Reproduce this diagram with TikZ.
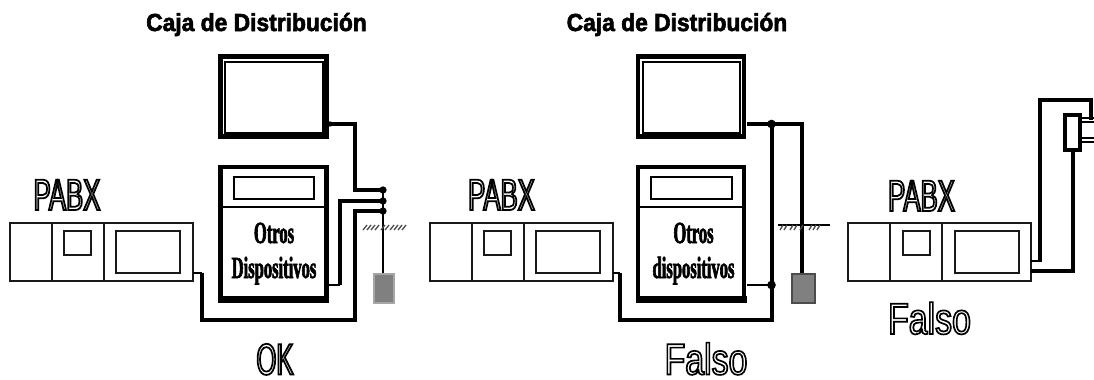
\documentclass[tikz,border=0pt]{standalone}
\usepackage{fontspec}
\setmainfont{Liberation Sans}
\newfontfamily\capfont[FakeStretch=0.585]{Liberation Sans}
\newfontfamily\falsofont[FakeStretch=0.77]{Liberation Sans}
\newfontfamily\boldfont[FakeStretch=0.925]{Liberation Sans Bold}
\newfontfamily\devfont[FakeStretch=0.54]{Liberation Serif Bold}
\newcommand{\outl}[1]{\special{pdf:code q 1 Tr 1.3 w}#1\special{pdf:code Q}}
\newcommand{\outf}[1]{\special{pdf:code q 1 Tr 1.25 w}#1\special{pdf:code Q}}
\newcommand{\fatt}[1]{\special{pdf:code q 2 Tr 0.45 w}#1\special{pdf:code Q}}
\tikzset{
 thinbox/.style={draw=black!90,line width=1.5pt,fill=none},
 frame/.style={draw=black,line width=3.5pt},
 wire/.style={draw=black,line width=3pt,line join=miter},
 slim/.style={draw=black,line width=1.5pt},
 dotj/.style={circle,fill=black,inner sep=0pt,minimum size=5.5pt},
 gnd/.style={fill=black!50,draw=black!35,line width=0.8pt},
 head/.style={font=\boldfont\fontsize{18.5}{20}\selectfont,inner sep=0pt,anchor=base},
 captext/.style={font=\capfont\fontsize{33}{34}\selectfont,inner sep=0pt,anchor=base},
 falsotext/.style={font=\falsofont\fontsize{33}{34}\selectfont,inner sep=0pt,anchor=base},
 dev/.style={font=\devfont\fontsize{23}{25}\selectfont,inner sep=0pt,anchor=base},
 tick/.style={draw=black!70,line width=1pt},
}
\newcommand{\pabx}[1]{%
 \begin{scope}[shift={(#1,0)}]
 \draw[thinbox] (0,222.5) rectangle (183,281);
 \draw[thinbox] (42,222.5) -- (42,281);
 \draw[thinbox] (94,222.5) -- (94,281);
 \draw[thinbox] (54.5,231) rectangle (81.5,255);
 \draw[thinbox] (106.5,231) rectangle (170.5,273);
 \end{scope}}
\newcommand{\boxes}[1]{%
 \begin{scope}[shift={(#1,0)}]
 \draw[frame] (2.4,56.4) rectangle (108.6,136.6);
 \draw[slim] (7,61.7) rectangle (104.7,132.7);
 \draw[frame] (2.4,167) rectangle (108.6,301);
 \fill[black] (0,296) rectangle (111,303);
 \draw[slim] (2.4,206.5) -- (108.6,206.5);
 \draw[slim] (15.5,177) rectangle (96,199);
 \end{scope}}
\begin{document}
\begin{tikzpicture}[x=0.75pt,y=-0.75pt]
\useasboundingbox (0,0) rectangle (1094,379);
% left
\pabx{9.5}\boxes{218}
\node[head] (c1) at (256.5,31) {\fatt{Caja de Distribución}};
\node[captext] (p1) at (67,210) {\outl{PABX}};
\node[dev] (o1) at (274,243) {\fatt{Otros}};
\node[dev] (d1) at (274,278) {\fatt{Dispositivos}};
\node[captext] (ok) at (275,374.5) {\outl{OK}};
\coordinate (a1) at (383,190);\coordinate (a2) at (383,201);\coordinate (a3) at (383,211);
\draw[wire] (329,124) -- (355,124) -- (355,190) -- (a1);
\draw[slim] (329,285) -- (340,285);
\draw[wire] (340,285) -- (340,201) -- (a2);
\draw[slim] (192.5,273) -- (202,273);
\draw[wire] (202,272.5) -- (202,320) -- (355,320) -- (355,211) -- (a3);
\draw[slim] (a1) -- (383,274);
\node[dotj] (j1) at (a1) {};\node[dotj] (j2) at (a2) {};\node[dotj] (j3) at (a3) {};
\node[dotj,minimum size=4pt] (j4) at (330,124) {};
\foreach \x in {363,367,371,375,381,385,390,394,398,402}
  \draw[tick] (\x,230) -- (\x+4,225);
\draw[gnd] (374,274) rectangle (394,303);
% middle
\pabx{429.5}\boxes{635.5}
\node[head] (c2) at (677,31) {\fatt{Caja de Distribución}};
\node[captext] (p2) at (501.5,210) {\outl{PABX}};
\node[dev] (o2) at (693.5,243) {\fatt{Otros}};
\node[dev] (d2) at (693.5,278) {\fatt{dispositivos}};
\node[falsotext] (f2) at (706,374.5) {\outf{Falso}};
\draw[wire] (747,124) -- (802,124) -- (802,274);
\draw[wire] (771.5,124) -- (771.5,320) -- (620,320) -- (620,272.5);
\draw[slim] (620,273) -- (612.5,273);
\draw[slim] (747,285) -- (771.5,285);
\node[dotj,minimum size=6.5pt] (j5) at (771.5,124) {};
\node[dotj,minimum size=6.5pt] (j6) at (771.5,285) {};
\draw[slim] (778,224.5) -- (830,224.5);
\foreach \x in {780,784,790,794,800,809,813,817}
  \draw[tick] (\x,230) -- (\x+3,225);
\draw[gnd,draw=black!70] (792,274) rectangle (815,303);
% right
\pabx{848}
\node[captext] (p3) at (921.5,211) {\outl{PABX}};
\node[falsotext] (f3) at (929.5,334) {\outf{Falso}};
\draw[slim] (1031,261) -- (1040,261);
\draw[wire] (1040,262) -- (1040,100) -- (1091,100) -- (1091,120);
\draw[wire] (1031,271) -- (1073,271) -- (1073,151);
\draw[frame] (1065,115) rectangle (1080,150);
\draw[slim] (1081,118) -- (1094,118);
\draw[slim] (1081,122) -- (1094,122);
\draw[slim] (1081,137.5) -- (1094,137.5);
\draw[slim] (1081,141.5) -- (1094,141.5);
\end{tikzpicture}
\end{document}
